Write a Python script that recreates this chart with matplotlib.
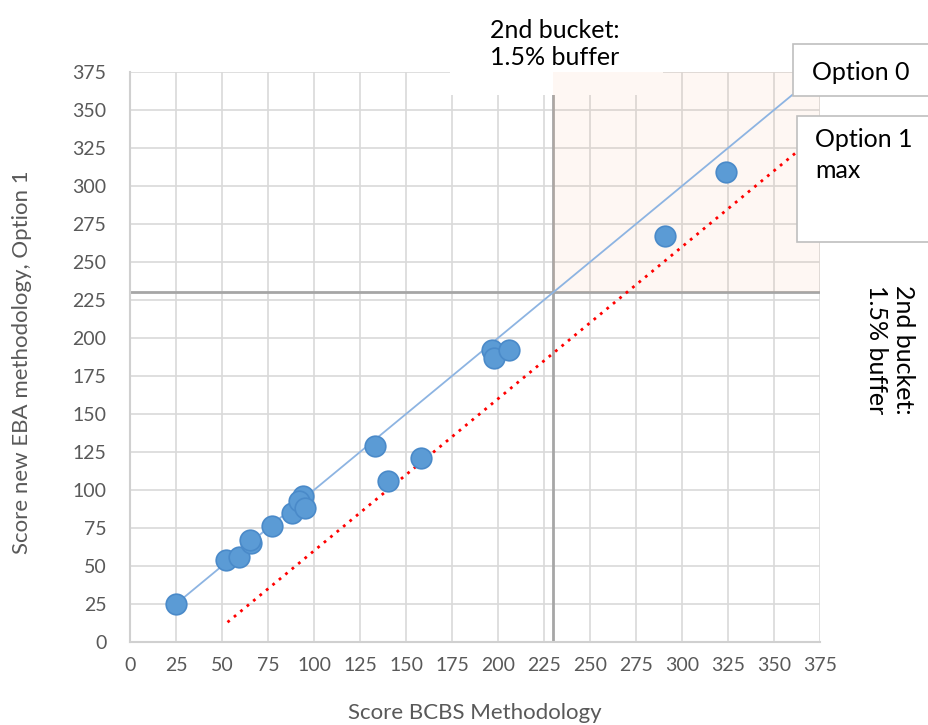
import matplotlib
matplotlib.use('Agg')
import matplotlib.pyplot as plt
from matplotlib.patches import Rectangle

plt.rcParams['font.family'] = ['Lato', 'DejaVu Sans']

# scores of the banks
bcbs_score = [25, 52, 59, 66, 65, 77, 88, 94, 92, 95, 133, 140, 158, 197, 198, 206, 291, 324]
eba_score = [25, 54, 56, 65, 67, 76, 85, 96, 93, 88, 129, 106, 121, 192, 187, 192, 267, 309]

# reference lines
option0_x = [25, 360]
option0_y = [25, 360]
option1_x = [53, 362]
option1_y = [13, 322]

bucket_threshold = 230
axis_max = 375
ticks = list(range(0, 376, 25))

grey_text = '#595959'

fig = plt.figure(figsize=(9.29, 7.25), dpi=100)
ax = fig.add_axes([130 / 929, 1 - 642 / 725, 690 / 929, 570 / 725])

ax.set_xlim(0, axis_max)
ax.set_ylim(0, axis_max)
ax.set_xticks(ticks)
ax.set_yticks(ticks)
ax.tick_params(length=0, labelsize=14, labelcolor=grey_text)
ax.tick_params(axis='y', pad=17)
ax.tick_params(axis='x', pad=11)
ax.grid(True, color='#D9D9D9', linewidth=1.2)
ax.set_axisbelow(True)
for side in ['top', 'right']:
    ax.spines[side].set_visible(False)
for side in ['left', 'bottom']:
    ax.spines[side].set_color('#D0D0D0')
    ax.spines[side].set_linewidth(1.5)

# threshold lines, under the white title box
ax.axvline(bucket_threshold, color='#A6A6A6', linewidth=2, zorder=0.55)
ax.axhline(bucket_threshold, color='#A6A6A6', linewidth=2, zorder=0.55)

# white box behind the top note, hides the grid
ax.add_patch(Rectangle((450 / 929, 1 - 95 / 725), 213 / 929, 95 / 725,
                       transform=fig.transFigure, facecolor='white',
                       edgecolor='none', zorder=0.6, clip_on=False))

# shaded 2nd bucket area
ax.add_patch(Rectangle((bucket_threshold, bucket_threshold),
                       axis_max - bucket_threshold, axis_max - bucket_threshold,
                       facecolor='#F4B183', alpha=0.09, edgecolor='none', zorder=0.7))

ax.plot(option0_x, option0_y, color='#8DB4E2', linewidth=1.3, zorder=3)
ax.plot(option1_x, option1_y, color='#FF0000', linewidth=2, linestyle=(0, (1, 2)), zorder=3)

ax.scatter(bcbs_score, eba_score, s=220, color='#5B9BD5', edgecolors='#4A8AC9',
           linewidths=1.2, zorder=4)

ax.set_xlabel('Score BCBS Methodology', fontsize=16, color=grey_text, va='center')
ax.xaxis.set_label_coords(0.5, (642 - 713) / 570)
ax.set_ylabel('Score new EBA methodology, Option 1', fontsize=16, color=grey_text, va='center')
ax.yaxis.set_label_coords((22 - 130) / 690, (642 - 362) / 570)

fig.text(555 / 929, 1 - 44 / 725, '2nd bucket:\n1.5% buffer', ha='center', va='center',
         fontsize=18, color='black', linespacing=1.25, zorder=6)

# right annotation
fig.text(890 / 929, 1 - 285 / 725, '2nd bucket:\n1.5% buffer', ha='center', va='top',
         rotation=270, fontsize=18, color='black', linespacing=1.25)

# option labels
fig.patches.append(Rectangle((793 / 929, 1 - 96 / 725), 150 / 929, 52 / 725,
                             transform=fig.transFigure, facecolor='white',
                             edgecolor='#BFBFBF', linewidth=1.2, zorder=5))
fig.text(812 / 929, 1 - 72 / 725, 'Option 0', ha='left', va='center',
         fontsize=18, color='black', zorder=6)
fig.patches.append(Rectangle((797 / 929, 1 - 242 / 725), 150 / 929, 126 / 725,
                             transform=fig.transFigure, facecolor='white',
                             edgecolor='#BFBFBF', linewidth=1.2, zorder=5))
fig.text(815 / 929, 1 - 128 / 725, 'Option 1\nmax', ha='left', va='top',
         fontsize=18, color='black', linespacing=1.4, zorder=6)

fig.savefig('out.png', dpi=100)
